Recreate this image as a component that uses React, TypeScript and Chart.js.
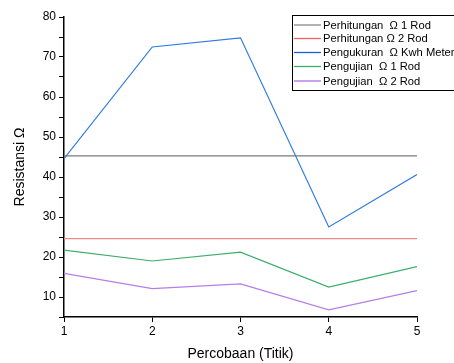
import React, { useEffect, useRef } from "react";
import { Chart, registerables } from "chart.js";

Chart.register(...registerables);

const xValues = [1, 2, 3, 4, 5];
const perhitungan1Rod = [45.3, 45.3, 45.3, 45.3, 45.3];
const perhitungan2Rod = [24.6, 24.6, 24.6, 24.6, 24.6];
const pengukuranKwh = [44.6, 72.5, 74.8, 27.5, 40.6];
const pengujian1Rod = [21.7, 19.0, 21.2, 12.5, 17.6];
const pengujian2Rod = [15.9, 12.1, 13.3, 6.8, 11.6];
const seriesLabels = [
  "Perhitungan  Ω 1 Rod",
  "Perhitungan Ω 2 Rod",
  "Pengukuran  Ω Kwh Meter",
  "Pengujian  Ω 1 Rod",
  "Pengujian  Ω 2 Rod",
];
const seriesColors = ["#7a7a7a", "#f08a8a", "#2f7be0", "#3cae6a", "#b47ee8"];
const legendLineColors = ["#8a8a8a", "#f06060", "#1f5fcf", "#3cae6a", "#c8a2f0"];

const FONT = "'Liberation Sans', Arial, sans-serif";

const legendPlugin = {
  id: "customLegend",
  afterDraw(chart: any) {
    const ctx = chart.ctx;
    const left = 292.5;
    const top = 15.5;
    const bottom = 90.5;
    ctx.save();
    ctx.fillStyle = "#ffffff";
    ctx.fillRect(left, top, 200, bottom - top);
    ctx.strokeStyle = "#000000";
    ctx.lineWidth = 1;
    ctx.strokeRect(left, top, 200, bottom - top);
    ctx.font = `11.2px ${FONT}`;
    ctx.textBaseline = "middle";
    ctx.textAlign = "left";
    const ys = [25, 38.5, 52.5, 66.5, 81];
    seriesLabels.forEach((lab, i) => {
      ctx.strokeStyle = legendLineColors[i];
      ctx.lineWidth = i === 4 ? 2 : 1.3;
      ctx.beginPath();
      ctx.moveTo(294, ys[i]);
      ctx.lineTo(321, ys[i]);
      ctx.stroke();
      ctx.fillStyle = "#000000";
      ctx.fillText(lab, 323, ys[i] + 0.5);
    });
    ctx.restore();
  },
};

export default function App() {
  const ref = useRef<HTMLCanvasElement>(null);
  useEffect(() => {
    document.body.style.margin = "0";
    const seriesData = [perhitungan1Rod, perhitungan2Rod, pengukuranKwh, pengujian1Rod, pengujian2Rod];
    const chart = new Chart(ref.current!, {
      type: "line",
      data: {
        datasets: seriesData.map((arr, i) => ({
          label: seriesLabels[i],
          data: arr.map((v, j) => ({ x: xValues[j], y: v })),
          borderColor: seriesColors[i],
          backgroundColor: seriesColors[i],
          borderWidth: 1.2,
          pointRadius: 0,
          tension: 0,
        })),
      },
      options: {
        responsive: false,
        animation: false,
        layout: { padding: { top: 17, right: 37, left: 0, bottom: 0 } },
        plugins: { legend: { display: false }, tooltip: { enabled: false } },
        scales: {
          x: {
            type: "linear",
            min: 1,
            max: 5,
            afterFit: (s: any) => {
              s.height = 46;
            },
            ticks: {
              stepSize: 1,
              color: "#000",
              font: { family: FONT, size: 12 },
              padding: 2,
              maxRotation: 0,
            },
            grid: { drawOnChartArea: false, tickLength: 5, color: "#000" },
            border: { color: "#000", width: 1.5 },
            title: {
              display: true,
              text: "Percobaan (Titik)",
              color: "#000",
              font: { family: FONT, size: 14 },
              padding: { top: 4, bottom: 0 },
            },
          },
          y: {
            type: "linear",
            min: 5,
            max: 80,
            afterFit: (s: any) => {
              s.width = 64;
            },
            ticks: {
              stepSize: 5,
              color: "#000",
              font: { family: FONT, size: 12 },
              padding: 3,
              callback: (v: any) => (Number(v) % 10 === 0 ? String(v) : ""),
            },
            grid: { drawOnChartArea: false, tickLength: 5, color: "#000" },
            border: { color: "#000", width: 1.5 },
            title: {
              display: true,
              text: "Resistansi Ω",
              color: "#000",
              font: { family: FONT, size: 14 },
              padding: { top: 12, bottom: 4 },
            },
          },
        },
      },
      plugins: [legendPlugin],
    } as any);
    return () => chart.destroy();
  }, []);
  return (
    <div style={{ width: 454, height: 363, background: "#fff" }}>
      <canvas ref={ref} width={454} height={363} />
    </div>
  );
}
